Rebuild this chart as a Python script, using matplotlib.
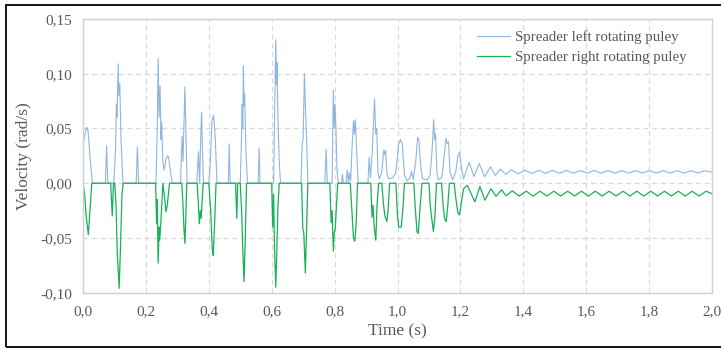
#! /usr/bin/env python3

import matplotlib
matplotlib.use("Agg")
import matplotlib.pyplot as plt
from matplotlib.ticker import FuncFormatter
from matplotlib.patches import Rectangle

# values (time in s, velocity in rad/s)
left_t = [
    0.000, 0.006, 0.012, 0.016, 0.022, 0.030,
    0.071, 0.075, 0.079,
    0.098, 0.104, 0.106, 0.108, 0.112, 0.114, 0.117, 0.121, 0.127,
    0.169, 0.173, 0.177,
    0.232, 0.236, 0.239, 0.242, 0.245, 0.248, 0.250, 0.254, 0.258, 0.264, 0.268, 0.272, 0.276, 0.284,
    0.310, 0.315, 0.318, 0.324, 0.327, 0.331,
    0.362, 0.367, 0.371, 0.374, 0.377, 0.380, 0.383,
    0.400, 0.405, 0.410, 0.415, 0.420, 0.426,
    0.462, 0.465, 0.468,
    0.500, 0.504, 0.506, 0.508, 0.510, 0.512, 0.514, 0.518, 0.523,
    0.557, 0.560, 0.563,
    0.606, 0.609, 0.613, 0.615, 0.617, 0.620, 0.624, 0.628,
    0.693, 0.697, 0.700, 0.704, 0.707, 0.710, 0.715,
    0.769, 0.773, 0.777,
    0.792, 0.796, 0.799, 0.801, 0.804, 0.808, 0.812,
    0.822, 0.825, 0.828, 0.836, 0.840, 0.844, 0.847, 0.851, 0.855, 0.860, 0.863, 0.866, 0.870, 0.875,
    0.906, 0.910, 0.914, 0.920, 0.927, 0.931, 0.934, 0.938, 0.942,
    0.950, 0.956, 0.960, 0.962, 0.967, 0.972, 0.985, 0.995, 1.003, 1.010, 1.015, 1.022, 1.030,
    1.040, 1.045, 1.050, 1.058, 1.064, 1.068, 1.074, 1.080, 1.095, 1.104, 1.110, 1.115, 1.118,
    1.121, 1.125, 1.130, 1.140, 1.145, 1.150, 1.154, 1.158, 1.162, 1.167, 1.175, 1.185, 1.192,
    1.197, 1.203, 1.210,
    1.228, 1.243, 1.260, 1.277, 1.296, 1.311, 1.327, 1.345, 1.362, 1.384, 1.405, 1.427, 1.449,
    1.471, 1.493, 1.515, 1.537, 1.559, 1.581, 1.603, 1.625, 1.647, 1.669, 1.691, 1.713, 1.735,
    1.757, 1.779, 1.801, 1.823, 1.845, 1.867, 1.889, 1.911, 1.933, 1.955, 1.977, 2.000,
]
left_v = [
    0.035, 0.045, 0.051, 0.048, 0.025, 0.000,
    0.000, 0.034, 0.000,
    0.000, 0.035, 0.072, 0.060, 0.109, 0.080, 0.091, 0.040, 0.000,
    0.000, 0.033, 0.000,
    0.000, 0.050, 0.114, 0.060, 0.089, 0.040, 0.056, 0.020, 0.012, 0.022, 0.025, 0.024, 0.015, 0.000,
    0.000, 0.043, 0.020, 0.088, 0.052, 0.000,
    0.000, 0.029, 0.000, 0.040, 0.065, 0.030, 0.000,
    0.000, 0.020, 0.057, 0.062, 0.045, 0.000,
    0.000, 0.036, 0.000,
    0.000, 0.040, 0.072, 0.050, 0.107, 0.070, 0.082, 0.030, 0.000,
    0.000, 0.032, 0.000,
    0.000, 0.060, 0.131, 0.090, 0.110, 0.057, 0.020, 0.000,
    0.000, 0.036, 0.040, 0.100, 0.071, 0.050, 0.000,
    0.000, 0.031, 0.000,
    0.000, 0.085, 0.050, 0.072, 0.052, 0.010, 0.000,
    0.000, 0.008, 0.000, 0.000, 0.012, 0.000, 0.010, 0.002, 0.030, 0.057, 0.045, 0.058, 0.030, 0.000,
    0.000, 0.024, 0.005, 0.030, 0.077, 0.045, 0.050, 0.010, 0.004,
    0.010, 0.030, 0.026, 0.030, 0.008, 0.004, 0.005, 0.010, 0.035, 0.040, 0.036, 0.008, 0.002,
    0.005, 0.011, 0.003, 0.020, 0.042, 0.040, 0.015, 0.004, 0.003, 0.008, 0.030, 0.058, 0.040,
    0.045, 0.010, 0.003, 0.005, 0.015, 0.030, 0.041, 0.036, 0.038, 0.010, 0.003, 0.010, 0.025,
    0.028, 0.015, 0.004,
    0.019, 0.006, 0.018, 0.006, 0.015, 0.007, 0.013, 0.008, 0.0125, 0.0085, 0.0120, 0.0088, 0.0118,
    0.0090, 0.0117, 0.0091, 0.0117, 0.0091, 0.0116, 0.0092, 0.0116, 0.0092, 0.0116, 0.0092, 0.0115, 0.0092,
    0.0115, 0.0093, 0.0115, 0.0093, 0.0115, 0.0093, 0.0114, 0.0093, 0.0114, 0.0094, 0.0114, 0.0100,
]

right_t = [
    0.000, 0.005, 0.010, 0.017, 0.022, 0.028,
    0.088, 0.093, 0.097,
    0.101, 0.105, 0.109, 0.115, 0.119, 0.124, 0.128,
    0.231, 0.234, 0.236, 0.239, 0.242, 0.244, 0.248, 0.254, 0.258, 0.264, 0.268, 0.275,
    0.314, 0.318, 0.321, 0.324, 0.327, 0.330,
    0.363, 0.367, 0.370, 0.373, 0.376, 0.379, 0.382,
    0.400, 0.406, 0.411, 0.414, 0.418, 0.423,
    0.485, 0.489, 0.492,
    0.500, 0.505, 0.508, 0.512, 0.516, 0.520,
    0.600, 0.603, 0.606, 0.609, 0.613, 0.616, 0.620, 0.624,
    0.695, 0.699, 0.702, 0.707, 0.711, 0.715,
    0.785, 0.789, 0.792, 0.796, 0.799, 0.802, 0.806, 0.810,
    0.850, 0.855, 0.860, 0.864, 0.868, 0.873,
    0.915, 0.919, 0.922, 0.926, 0.931, 0.935, 0.940,
    0.950, 0.955, 0.960, 0.966, 0.970, 0.975,
    0.995, 1.000, 1.004, 1.012, 1.018, 1.022,
    1.052, 1.057, 1.062, 1.066, 1.071, 1.078,
    1.100, 1.104, 1.108, 1.114, 1.119, 1.124,
    1.140, 1.145, 1.150, 1.155, 1.160, 1.165,
    1.180, 1.186, 1.192, 1.197, 1.203, 1.210, 1.222,
    1.246, 1.262, 1.278, 1.297, 1.313, 1.331, 1.345, 1.365, 1.387, 1.409, 1.431, 1.453, 1.475,
    1.497, 1.519, 1.541, 1.563, 1.585, 1.607, 1.629, 1.651, 1.673, 1.695, 1.717, 1.739, 1.761,
    1.783, 1.805, 1.827, 1.849, 1.871, 1.893, 1.915, 1.937, 1.959, 1.981, 2.000,
]
right_v = [
    0.000, -0.010, -0.030, -0.047, -0.025, 0.000,
    0.000, -0.030, 0.000,
    0.000, -0.020, -0.064, -0.096, -0.060, -0.010, 0.000,
    0.000, -0.037, -0.015, -0.073, -0.040, -0.052, -0.033, 0.000, -0.010, -0.026, -0.020, 0.000,
    0.000, -0.020, -0.042, -0.055, -0.030, 0.000,
    0.000, -0.020, -0.037, -0.025, -0.032, -0.015, 0.000,
    0.000, -0.025, -0.060, -0.066, -0.040, 0.000,
    0.000, -0.032, 0.000,
    0.000, -0.030, -0.060, -0.090, -0.050, 0.000,
    0.000, -0.040, -0.010, -0.060, -0.095, -0.065, -0.020, 0.000,
    0.000, -0.042, -0.045, -0.082, -0.040, 0.000,
    0.000, -0.036, -0.025, -0.062, -0.045, -0.042, -0.020, 0.000,
    0.000, -0.025, -0.050, -0.053, -0.040, 0.000,
    0.000, -0.031, -0.020, -0.040, -0.052, -0.020, 0.000,
    0.000, -0.018, -0.030, -0.035, -0.025, 0.000,
    0.000, -0.030, -0.040, -0.040, -0.020, 0.000,
    0.000, -0.025, -0.044, -0.046, -0.025, 0.000,
    0.000, -0.020, -0.030, -0.044, -0.030, 0.000,
    0.000, -0.020, -0.033, -0.035, -0.020, 0.000,
    0.000, -0.015, -0.027, -0.029, -0.018, -0.005, -0.002,
    -0.017, -0.003, -0.0155, -0.005, -0.012, -0.006, -0.0115, -0.0070, -0.0118, -0.0072, -0.0118, -0.0073, -0.0117,
    -0.0073, -0.0117, -0.0073, -0.0117, -0.0073, -0.0117, -0.0073, -0.0117, -0.0073, -0.0117, -0.0073, -0.0117, -0.0073,
    -0.0117, -0.0073, -0.0117, -0.0073, -0.0117, -0.0073, -0.0117, -0.0073, -0.0117, -0.0073, -0.0095,
]

x_ticks = [0.0, 0.2, 0.4, 0.6, 0.8, 1.0, 1.2, 1.4, 1.6, 1.8, 2.0]
y_ticks = [-0.10, -0.05, 0.00, 0.05, 0.10, 0.15]

GREY = "#595959"
plt.rcParams["font.family"] = ["Liberation Serif", "DejaVu Serif"]

fig = plt.figure(figsize=(7.21, 3.48), dpi=100)
ax = fig.add_axes([83 / 721, 1 - 292.7 / 348, 629 / 721, 273.7 / 348])

ax.plot(left_t, left_v, color="#8fb6e0", lw=0.8, label="Spreader left rotating puley")
ax.plot(right_t, right_v, color="#19b05a", lw=0.9, label="Spreader right rotating puley")

ax.set_xlim(0, 2.0)
ax.set_ylim(-0.10, 0.15)
ax.set_xticks(x_ticks)
ax.set_yticks(y_ticks)
ax.xaxis.set_major_formatter(FuncFormatter(lambda v, p: f"{v:.1f}".replace(".", ",")))
ax.yaxis.set_major_formatter(FuncFormatter(lambda v, p: f"{v:.2f}".replace(".", ",")))
ax.tick_params(length=0, labelsize=11, labelcolor=GREY)
ax.tick_params(axis="x", pad=9)
ax.tick_params(axis="y", pad=8)
ax.grid(True, color="#d9d9d9", lw=0.9, ls=(0, (4, 3)))
ax.set_axisbelow(True)
for s in ax.spines.values():
    s.set_color("#d0d0d0")
    s.set_linewidth(1.0)

ax.set_xlabel("Time (s)", fontsize=12.5, color=GREY, labelpad=4)
ax.set_ylabel("Velocity (rad/s)", fontsize=12.5, color=GREY, labelpad=6)

leg = ax.legend(loc="upper left", bbox_to_anchor=(0.627, 0.960), frameon=False,
                fontsize=10.7, handlelength=2.2, handletextpad=0.3,
                labelspacing=0.45, borderpad=0, borderaxespad=0)
for t in leg.get_texts():
    t.set_color(GREY)

# black frame round the whole picture
fig.patches.append(Rectangle((6 / 721, 1 - 346.5 / 348), 1.0, 342 / 348,
                             transform=fig.transFigure, fill=False,
                             edgecolor="black", lw=1.3))

fig.savefig("out.png", dpi=100)
